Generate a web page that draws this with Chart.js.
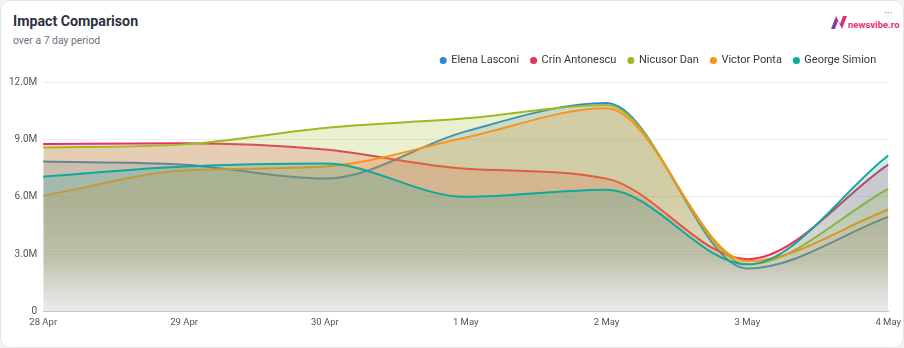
<!DOCTYPE html>
<html>
<head>
<meta charset="utf-8">
<script src="https://cdn.jsdelivr.net/npm/chart.js@4.4.0/dist/chart.umd.min.js"></script>
<style>
  html, body { margin: 0; padding: 0; background: #f2f2f4; font-family: Roboto, "Noto Sans", sans-serif; }
  .card { position: absolute; left: 0; top: 0; width: 902px; height: 346px; background: #fff; border: 1px solid #e4e4e8; border-radius: 10px; overflow: hidden; }
  .title { position: absolute; left: 12px; top: 12px; font-size: 14.2px; font-weight: 700; color: #2b3140; }
  .subtitle { position: absolute; left: 12px; top: 33px; font-size: 10.4px; color: #6b7280; }
  .logo { position: absolute; left: 830px; top: 14px; display: flex; align-items: flex-end; }
  .logo span { font-size: 9.5px; font-weight: 700; color: #e8336b; margin-left: 1px; line-height: 9px; }
  .dots { position: absolute; left: 883px; top: 6px; font-size: 11px; color: #888; }
  .chart-box { position: absolute; left: 2px; top: 42px; width: 903px; height: 290px; }
</style>
</head>
<body>
<div class="card">
  <div class="title">Impact Comparison</div>
  <div class="subtitle">over a 7 day period</div>
  <div class="logo">
    <svg width="16" height="14" viewBox="0 0 16 14">
      <defs>
        <linearGradient id="lg" x1="0" y1="0" x2="1" y2="0">
          <stop offset="0" stop-color="#6a3fb8"/>
          <stop offset="1" stop-color="#f0306a"/>
        </linearGradient>
      </defs>
      <path d="M0 14 L5 1 L9 9 L12 1 L16 1 L11 14 L7 6 L4 14 Z" fill="url(#lg)"/>
    </svg>
    <span>newsvibe.ro</span>
  </div>
  <div class="dots">&middot;&middot;&middot;</div>
  <div class="chart-box"><canvas id="chart"></canvas></div>
</div>
<script>
const labels = ['28 Apr', '29 Apr', '30 Apr', '1 May', '2 May', '3 May', '4 May'];

const seriesNames = ['Elena Lasconi', 'Crin Antonescu', 'Nicusor Dan', 'Victor Ponta', 'George Simion'];
const seriesColors = ['#2f86d6', '#e8315b', '#9cbb22', '#f7941d', '#0fa89d'];

const elenaLasconi  = [7.84, 7.68, 6.95, 9.42, 10.9, 2.25, 4.95];
const crinAntonescu = [8.76, 8.8, 8.47, 7.47, 6.95, 2.74, 7.68];
const nicusorDan    = [8.58, 8.74, 9.6, 10.1, 10.8, 2.47, 6.42];
const victorPonta   = [6.05, 7.37, 7.58, 9.1, 10.63, 2.63, 5.32];
const georgeSimion  = [7.05, 7.58, 7.74, 6.0, 6.37, 2.47, 8.16];

const seriesValues = [elenaLasconi, crinAntonescu, nicusorDan, victorPonta, georgeSimion];

function hexToRgba(hex, a) {
    const n = parseInt(hex.slice(1), 16);
    return `rgba(${(n >> 16) & 255}, ${(n >> 8) & 255}, ${n & 255}, ${a})`;
}

function makeFill(color) {
    return (context) => {
        const area = context.chart.chartArea;
        if (!area) return hexToRgba(color, 0.2);
        const g = context.chart.ctx.createLinearGradient(0, area.top, 0, area.bottom);
        g.addColorStop(0, hexToRgba(color, 0.22));
        g.addColorStop(0.5, hexToRgba(color, 0.21));
        g.addColorStop(0.78, hexToRgba(color, 0.14));
        g.addColorStop(1, 'rgba(205, 205, 212, 0.1)');
        return g;
    };
}

const datasets = seriesNames.map((name, i) => ({
    label: name,
    data: seriesValues[i].map(v => v * 1000000),
    borderColor: seriesColors[i],
    backgroundColor: makeFill(seriesColors[i]),
    fill: 'origin',
    borderWidth: 2,
    pointRadius: 0,
    pointHoverRadius: 0,
    cubicInterpolationMode: 'monotone',
    order: seriesNames.length - i
}));

// a bit more room between the legend and the plot
const legendGap = {
    id: 'legendGap',
    beforeInit(chart) {
        const fit = chart.legend.fit;
        chart.legend.fit = function () {
            fit.bind(chart.legend)();
            this.height += 6;
        };
    }
};

const chart = new Chart(document.getElementById('chart'), {
    type: 'line',
    data: { labels: labels, datasets: datasets },
    plugins: [legendGap],
    options: {
        responsive: true,
        maintainAspectRatio: false,
        animation: false,
        layout: { padding: { left: 0, right: 4, top: 0, bottom: 0 } },
        plugins: {
            legend: {
                position: 'top',
                align: 'end',
                fullSize: false,
                labels: {
                    usePointStyle: true,
                    pointStyle: 'circle',
                    boxWidth: 5,
                    boxHeight: 5,
                    padding: 12,
                    color: '#333840',
                    font: { family: 'Roboto', size: 11 },
                    generateLabels: (c) => c.data.datasets.map((ds, i) => ({
                        text: ds.label,
                        fillStyle: ds.borderColor,
                        strokeStyle: ds.borderColor,
                        lineWidth: 0,
                        pointStyle: 'circle',
                        fontColor: '#333840',
                        hidden: false,
                        datasetIndex: i
                    }))
                }
            },
            tooltip: { enabled: false }
        },
        scales: {
            x: {
                grid: { display: false, drawTicks: false },
                border: { color: '#c8c8cc', width: 1 },
                ticks: { color: '#555', font: { family: 'Roboto', size: 9.5 }, padding: 5, maxRotation: 0 }
            },
            y: {
                min: 0,
                max: 12000000,
                grid: { color: '#ececef', drawTicks: false },
                border: { display: false },
                ticks: {
                    stepSize: 3000000,
                    color: '#555',
                    font: { family: 'Roboto', size: 10 },
                    padding: 6,
                    callback: (v) => v === 0 ? '0' : (v / 1000000).toFixed(1) + 'M'
                }
            }
        }
    }
});
</script>
</body>
</html>
